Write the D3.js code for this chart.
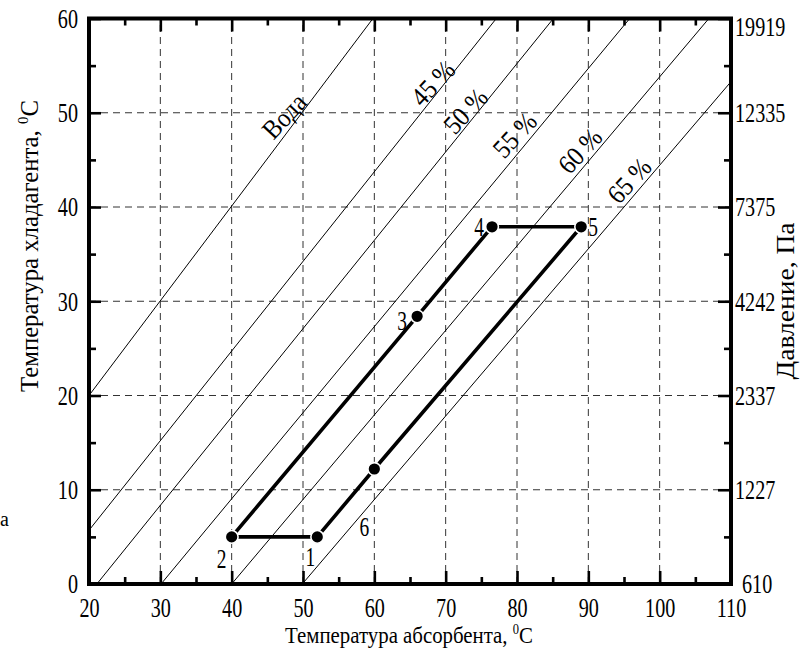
<!DOCTYPE html>
<html><head><meta charset="utf-8">
<script src="https://cdn.jsdelivr.net/npm/d3@7"></script>
<style>
body{margin:0;background:#fff}
svg text{font-family:"Liberation Serif","Times New Roman",serif;fill:#000}
</style>
</head><body>
<svg id="c" width="802" height="664"></svg>
<script>
// ---------- data ----------
const xMajor = [20,30,40,50,60,70,80,90,100,110];
const xMinor = [25,35,45,55,65,75,85,95,105];
const yMajor = [0,10,20,30,40,50,60];
const yMinor = [5,15,25,35,45,55];
const pressureLabels = ["610","1227","2337","4242","7375","12335","19919"];

const lineNames = ["Вода","45 %","50 %","55 %","60 %","65 %"];
const lineX0 = [20, 20, 21.1, 30.1, 40, 49.9];
const lineY0 = [20, 5.7, 0, 0, 0, 0];
const lineX1 = [59.8, 77.1, 85.1, 95.8, 106.9, 110];
const lineY1 = [60, 60, 60, 60, 60, 53.3];

const cycleLabels = ["1","2","3","4","5","6"];
const cycleX = [52, 40, 66, 76.5, 89, 60];
const cycleY = [5, 5, 28.4, 37.9, 37.9, 12.2];
const cycleOrder = [1,2,3,4,5,0]; // 2→3→4→5→6→1→(2)

// ---------- layout / style ----------
const L = 89, R = 731, T = 18.5, B = 584;
const serif = '"Liberation Serif","Times New Roman",serif';
const labelT = [0.722, 0.862, 0.825, 0.778, 0.751, 0.786];
const labelOff = [12, 9, 10, 14, 13, 13];
const ptLabelDx = [-7, -10, -15, -13, 12, -10];
const ptLabelDy = [20, 22, 4, 0, 0, 58];
const tickFont = 28, cond = 0.72;

const svg = d3.select("#c");
const x = d3.scaleLinear().domain([20,110]).range([L,R]);
const y = d3.scaleLinear().domain([0,60]).range([B,T]);

// grid
const grid = svg.append("g").attr("stroke","#333").attr("stroke-width",1).attr("stroke-dasharray","7,5").attr("fill","none");
grid.selectAll("line.v").data(xMajor.slice(1,-1)).join("line")
  .attr("x1",d=>x(d)).attr("x2",d=>x(d)).attr("y1",B).attr("y2",T);
grid.selectAll("line.h").data(yMajor.slice(1,-1)).join("line")
  .attr("y1",d=>y(d)).attr("y2",d=>y(d)).attr("x1",L).attr("x2",R);

// solution lines
const lines = svg.append("g");
lineNames.forEach((n,i)=>{
  const px0=x(lineX0[i]), py0=y(lineY0[i]), px1=x(lineX1[i]), py1=y(lineY1[i]);
  lines.append("line").attr("x1",px0).attr("y1",py0).attr("x2",px1).attr("y2",py1)
    .attr("stroke","#000").attr("stroke-width",1);
  const dx=px1-px0, dy=py1-py0, len=Math.hypot(dx,dy);
  const ux=dx/len, uy=dy/len;
  const cx = px0+dx*labelT[i] - Math.abs(uy)*labelOff[i];
  const cy = py0+dy*labelT[i] - Math.abs(ux)*labelOff[i];
  lines.append("text")
    .attr("transform",`translate(${cx},${cy}) rotate(-47) scale(0.9,1)`)
    .attr("text-anchor","middle").attr("dominant-baseline","central")
    .style("font-size","27px").text(n);
});

// cycle path
const pts = cycleOrder.map(i=>[x(cycleX[i]), y(cycleY[i])]);
svg.append("path")
  .attr("d", d3.line().curve(d3.curveLinearClosed)(pts))
  .attr("fill","none").attr("stroke","#000").attr("stroke-width",3.6).attr("stroke-linejoin","round");
svg.append("g").selectAll("circle").data(cycleX).join("circle")
  .attr("cx",(d,i)=>x(cycleX[i])).attr("cy",(d,i)=>y(cycleY[i]))
  .attr("r",6.4).attr("fill","#000").attr("stroke","#fff").attr("stroke-width",1.6);
svg.append("g").selectAll("text").data(cycleLabels).join("text")
  .attr("transform",(d,i)=>`translate(${x(cycleX[i])+ptLabelDx[i]},${y(cycleY[i])+ptLabelDy[i]}) scale(${cond},1)`)
  .attr("text-anchor","middle").attr("dominant-baseline","central")
  .style("font-size","27px").text(d=>d);

// axes
function styleAxis(g){
  g.select(".domain").remove();
  g.selectAll(".tick line").attr("stroke","#000").attr("stroke-width",2.6);
  g.selectAll("text").style("font-size",tickFont+"px").style("font-family",serif).attr("fill","#000");
}
// bottom
const gB = svg.append("g").attr("transform",`translate(0,${B})`)
  .call(d3.axisBottom(x).tickValues(xMajor).tickSizeInner(-13).tickSizeOuter(0).tickPadding(13).tickFormat(d3.format("d")));
styleAxis(gB); gB.selectAll("text").attr("transform",`scale(${cond},1)`);
svg.append("g").attr("transform",`translate(0,${B})`)
  .call(d3.axisBottom(x).tickValues(xMinor).tickSizeInner(-7).tickSizeOuter(0).tickFormat("")).call(styleAxis);
// top
svg.append("g").attr("transform",`translate(0,${T})`)
  .call(d3.axisTop(x).tickValues(xMajor).tickSizeInner(-13).tickSizeOuter(0).tickFormat("")).call(styleAxis);
svg.append("g").attr("transform",`translate(0,${T})`)
  .call(d3.axisTop(x).tickValues(xMinor).tickSizeInner(-7).tickSizeOuter(0).tickFormat("")).call(styleAxis);
// left
const gL = svg.append("g").attr("transform",`translate(${L},0)`)
  .call(d3.axisLeft(y).tickValues(yMajor).tickSizeInner(-12).tickSizeOuter(0).tickPadding(11).tickFormat(d3.format("d")));
styleAxis(gL); gL.selectAll("text").attr("x",-11/cond).attr("transform",`scale(${cond},1)`);
svg.append("g").attr("transform",`translate(${L},0)`)
  .call(d3.axisLeft(y).tickValues(yMinor).tickSizeInner(-7).tickSizeOuter(0).tickFormat("")).call(styleAxis);
// right
const gR = svg.append("g").attr("transform",`translate(${R},0)`)
  .call(d3.axisRight(y).tickValues(yMajor).tickSizeInner(-13).tickSizeOuter(0).tickPadding(4).tickFormat((d,i)=>pressureLabels[i]));
styleAxis(gR);
gR.selectAll("text").attr("x",(d,i)=> (i===0?11:4)/cond).attr("dy",(d,i)=> i===yMajor.length-1 ? "0.6em" : "0.32em")
  .attr("transform",`scale(${cond},1)`);
svg.append("g").attr("transform",`translate(${R},0)`)
  .call(d3.axisRight(y).tickValues(yMinor).tickSizeInner(-7).tickSizeOuter(0).tickFormat("")).call(styleAxis);

// frame
svg.append("rect").attr("x",L).attr("y",T).attr("width",R-L).attr("height",B-T)
  .attr("fill","none").attr("stroke","#000").attr("stroke-width",4);

// titles (fit to measured lengths)
function title(cx, cy, rot, target, size, main){
  const t = svg.append("text").attr("text-anchor","middle").style("font-size",size+"px");
  t.append("tspan").text(main);
  t.append("tspan").attr("dy",-size*0.4).style("font-size",(size*0.6)+"px").text("0");
  t.append("tspan").attr("dy",size*0.4).text("C");
  const w = t.node().getComputedTextLength();
  t.attr("transform",`translate(${cx},${cy}) rotate(${rot}) scale(${target/w},1)`);
  return t;
}
title(409, 643, 0, 248, 23, "Температура абсорбента, ");
title(38, 246, -90, 292, 25, "Температура хладагента, ");
const rt = svg.append("text").attr("text-anchor","middle").style("font-size","25px").text("Давление, Па");
const rw = rt.node().getComputedTextLength();
rt.attr("transform",`translate(794,301) rotate(-90) scale(${157/rw},1)`);

// stray cropped letter at the left edge
svg.append("text").attr("x",0).attr("y",526).style("font-size","20px").attr("fill","#333").text("а");
</script>
</body></html>
